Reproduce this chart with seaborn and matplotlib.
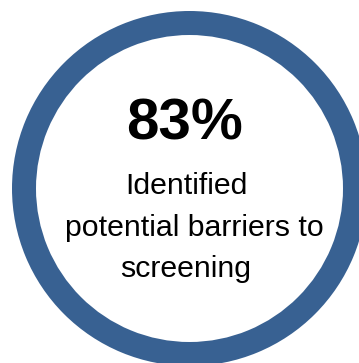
import matplotlib
matplotlib.use("Agg")
import matplotlib.pyplot as plt
from matplotlib.patches import Wedge
import seaborn as sns

# Headline statistic and the caption shown beneath it
share_pct = [83]
caption_lines = ["Identified", "potential barriers to", "screening"]

sns.set_theme(style="white")
plt.rcParams["font.family"] = ["Liberation Sans", "DejaVu Sans"]

W, H, DPI = 359, 363, 100
fig = plt.figure(figsize=(W / DPI, H / DPI), dpi=DPI)
ax = fig.add_axes([0, 0, 1, 1])
ax.set_xlim(0, W)
ax.set_ylim(H, 0)
ax.set_axis_off()

ring_color = "#386192"
cx, cy = 189.5, 188.5
outer_r, inner_r = 177.5, 153.5
ax.add_patch(Wedge((cx, cy), outer_r, 0, 360, width=outer_r - inner_r,
                   facecolor=ring_color, edgecolor="none"))

ax.text(184, 140, f"{share_pct[0]}%", ha="center", va="baseline",
        fontsize=42, fontweight="bold", color="black")

line_centers = [186, 194, 185.5]
baselines = [194, 236, 277]
for line, xc, yb in zip(caption_lines, line_centers, baselines):
    ax.text(xc, yb, line, ha="center", va="baseline", fontsize=21.8,
            color="black")

fig.savefig("out.png", dpi=DPI)
